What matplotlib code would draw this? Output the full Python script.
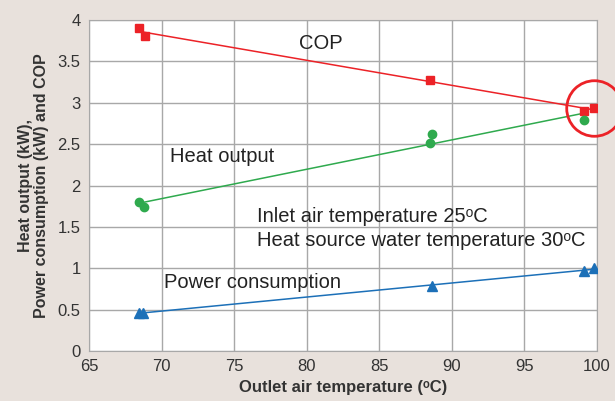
import matplotlib.pyplot as plt
import numpy as np

plt.rcParams['font.family'] = ['Liberation Sans', 'DejaVu Sans']

# ---------------------------------------------------------------
# data

cop_x = [68.45, 68.85, 88.5, 99.1, 99.8]
cop_y = [3.90, 3.81, 3.27, 2.90, 2.94]

heat_x = [68.45, 68.8, 88.5, 88.6, 99.1]
heat_y = [1.80, 1.74, 2.51, 2.62, 2.79]

pow_x = [68.45, 68.75, 88.6, 99.1, 99.8]
pow_y = [0.46, 0.46, 0.79, 0.97, 1.00]

xticks = [65, 70, 75, 80, 85, 90, 95, 100]
yticks = [0, 0.5, 1, 1.5, 2, 2.5, 3, 3.5, 4]
ytick_labels = ['0', '0.5', '1', '1.5', '2', '2.5', '3', '3.5', '4']

bg = '#E8E1DC'
red = '#EC2227'
green = '#2FAA4E'
blue = '#1C70B8'

# ---------------------------------------------------------------

fig = plt.figure(figsize=(6.15, 4.01), dpi=100, facecolor=bg)
ax = fig.add_axes([0.1447, 0.1247, 0.826, 0.8253])
ax.set_facecolor('white')


def trend(x, y, c):
    k, b = np.polyfit(x, y, 1)
    xx = np.array([min(x), max(x)])
    ax.plot(xx, k * xx + b, color=c, lw=1.1, zorder=3)


trend(cop_x, cop_y, red)
trend(heat_x, heat_y, green)
trend(pow_x, pow_y, blue)

ax.plot(cop_x, cop_y, 's', color=red, ms=6, ls='none', zorder=4)
ax.plot(heat_x, heat_y, 'o', color=green, ms=6, ls='none', zorder=4)
ax.plot(pow_x, pow_y, '^', color=blue, ms=6.5, ls='none', zorder=4)

# red circle round the last COP point
ax.plot([cop_x[-1]], [cop_y[-1]], 'o', ms=40, mfc='none', mec=red,
        mew=2, clip_on=False, zorder=5)

ax.set_xlim(65, 100)
ax.set_ylim(0, 4)
ax.set_xticks(xticks)
ax.set_yticks(yticks)
ax.set_yticklabels(ytick_labels)
ax.grid(True, color='#A8A8A8', lw=1)
ax.set_axisbelow(True)
ax.tick_params(length=0, labelsize=12, labelcolor='#333333', pad=6)
for s in ax.spines.values():
    s.set_color('#A8A8A8')

ax.set_xlabel('Outlet air temperature (\u1d52C)', fontsize=12,
              fontweight='bold', color='#333333', labelpad=4)
ax.set_ylabel('Heat output (kW),\nPower consumption (kW) and COP',
              fontsize=11.5, fontweight='bold', color='#333333',
              labelpad=6, linespacing=1.1)

ax.text(79.5, 3.72, 'COP', fontsize=14.5, color='#222222', va='center')
ax.text(70.6, 2.35, 'Heat output', fontsize=14.5, color='#222222', va='center')
ax.text(76.6, 1.63, 'Inlet air temperature 25\u1d52C', fontsize=14.5,
        color='#222222', va='center')
ax.text(76.6, 1.33, 'Heat source water temperature 30\u1d52C',
        fontsize=14.5, color='#222222', va='center')
ax.text(70.2, 0.83, 'Power consumption', fontsize=14.5, color='#222222',
        va='center')

fig.savefig('out.png', dpi=100, facecolor=bg)
